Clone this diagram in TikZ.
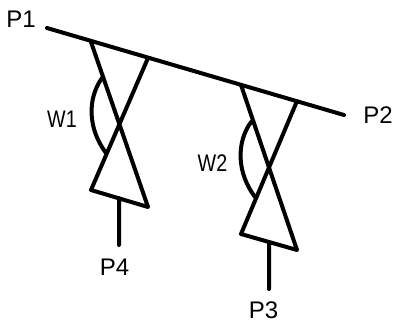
\documentclass[tikz,border=0pt]{standalone}
\usepackage{fontspec}
\setmainfont{Liberation Sans}
\tikzset{
    pipe/.style={line width=4pt,line cap=round,line join=round},
    tag/.style={font=\fontsize{24}{24}\selectfont,inner sep=0pt}
}
\begin{document}
\begin{tikzpicture}[x=1pt,y=-1pt,pipe]

\useasboundingbox (0,0) rectangle (395,324);

\coordinate (p1end) at (47,28);
\coordinate (p2end) at (344,115);

\coordinate (a1) at (91,42);
\coordinate (b1) at (148,58);
\coordinate (c1) at (91,190);
\coordinate (d1) at (148,207);
\coordinate (s1) at (119,198);
\coordinate (e1) at (119,245);
\coordinate (f1) at (102,78);
\coordinate (g1) at (106,153);

\coordinate (a2) at (241,85);
\coordinate (b2) at (297,101);
\coordinate (c2) at (241,234);
\coordinate (d2) at (297,250);
\coordinate (s2) at (269,242);
\coordinate (e2) at (269,289);
\coordinate (f2) at (251,122);
\coordinate (g2) at (255,197);

\node [tag] (p1) at (21,19) {P1};
\node [tag] (p2) at (378,115) {P2};
\node [tag] (p3) at (263.5,310) {P3};
\node [tag] (p4) at (114.5,267) {P4};
\node [tag] (w1) at (62,119) {\scalebox{0.82}[1]{W1}};
\node [tag] (w2) at (212.5,163) {\scalebox{0.82}[1]{W2}};

\path [draw]
    (p1end) -- (p2end)
    (a1) -- (d1) -- (c1) -- (b1)
    (s1) -- (e1)
    (a2) -- (d2) -- (c2) -- (b2)
    (s2) -- (e2)
;

\path [draw]
    (f1) .. controls (87,99) and (88,129) .. (g1)
    (f2) .. controls (236,143) and (237,173) .. (g2)
;

\end{tikzpicture}
\end{document}
